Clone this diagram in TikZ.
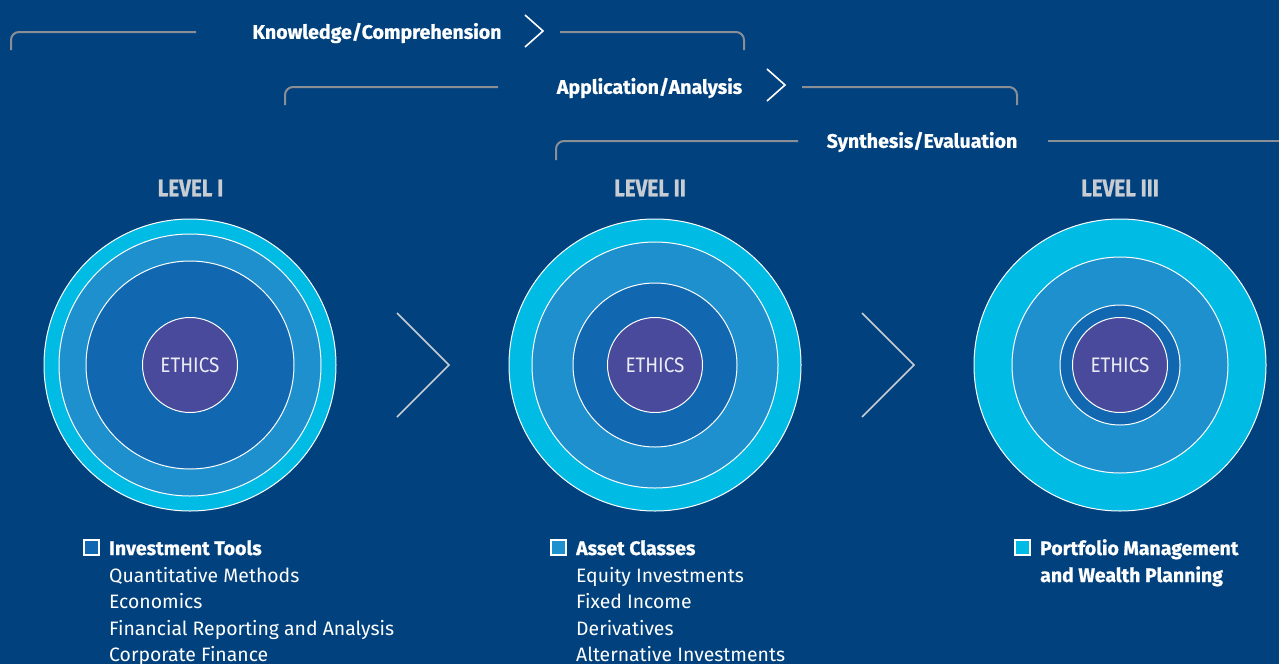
\documentclass[tikz,border=0pt]{standalone}
\usepackage{fontspec}
\setmainfont{Fira Sans}
\newfontfamily\condbold[FakeStretch=0.86,FakeBold=0.8]{Fira Sans Bold}
\newfontfamily\heavyfont[FakeBold=0.7]{Fira Sans Bold}
\newfontfamily\condreg[FakeStretch=0.9]{Fira Sans}
\definecolor{bgc}{RGB}{1,66,126}
\definecolor{ringcyan}{RGB}{0,187,228}
\definecolor{ringmid}{RGB}{30,144,206}
\definecolor{ringin}{RGB}{17,104,176}
\definecolor{ethicsc}{RGB}{74,74,156}
\definecolor{brackc}{RGB}{138,143,150}
\definecolor{levelc}{RGB}{200,205,212}
\definecolor{chevc}{RGB}{200,205,210}
\definecolor{ethtext}{RGB}{236,236,246}
\tikzset{
  ring/.style={circle, draw=white, line width=1pt, inner sep=0pt, outer sep=0pt},
  bracketline/.style={draw=brackc, line width=2pt, rounded corners=8pt},
  smallchev/.style={draw=white, line width=1.6pt},
  bigchev/.style={draw=chevc, line width=1.6pt},
  toplabel/.style={text=white, font=\fontsize{19.6}{22}\heavyfont, inner sep=0pt},
  levellabel/.style={text=levelc, font=\fontsize{24}{26}\condbold, inner sep=0pt},
  ethicslabel/.style={text=ethtext, font=\fontsize{21}{24}\condreg},
  headtext/.style={text=white, font=\fontsize{19.5}{22}\heavyfont, inner sep=0pt, anchor=base west},
  itemtext/.style={text=white, font=\fontsize{19.4}{22}\selectfont, inner sep=0pt, anchor=base west},
  keybox/.style={draw=white, line width=1.2pt, minimum size=15pt, inner sep=0pt},
}
\begin{document}
\begin{tikzpicture}[x=1pt,y=-1pt]
\fill[bgc] (0,0) rectangle (1279,664);
\useasboundingbox (0,0) rectangle (1279,664);

% top brackets
\coordinate (k1a) at (11,50);
\coordinate (k1b) at (11,32);
\coordinate (k1c) at (196,32);
\coordinate (k2a) at (560,32);
\coordinate (k2b) at (744,32);
\coordinate (k2c) at (744,50);
\draw[bracketline] (k1a) -- (k1b) -- (k1c);
\draw[bracketline] (k2a) -- (k2b) -- (k2c);
\node[toplabel] (kc) at (377,33) {Knowledge/Comprehension};
\draw[smallchev] (525,15) -- (543,31) -- (525,47);

\coordinate (a1a) at (285,105);
\coordinate (a1b) at (285,87);
\coordinate (a1c) at (498,87);
\coordinate (a2a) at (802,87);
\coordinate (a2b) at (1017,87);
\coordinate (a2c) at (1017,105);
\draw[bracketline] (a1a) -- (a1b) -- (a1c);
\draw[bracketline] (a2a) -- (a2b) -- (a2c);
\node[toplabel] (aa) at (649.5,88) {Application/Analysis};
\draw[smallchev] (767,69) -- (785,85) -- (767,101);

\coordinate (s1a) at (556,160);
\coordinate (s1b) at (556,141);
\coordinate (s1c) at (798,141);
\coordinate (s2a) at (1048,141);
\coordinate (s2b) at (1279,141);
\draw[bracketline] (s1a) -- (s1b) -- (s1c);
\draw[bracketline] (s2a) -- (s2b);
\node[toplabel] (se) at (922,142) {Synthesis/Evaluation};

% level labels
\node[levellabel] (lv1) at (190.5,188) {LEVEL I};
\node[levellabel] (lv2) at (650,188) {LEVEL II};
\node[levellabel] (lv3) at (1120,188) {LEVEL III};

% Level I circles
\node[ring, fill=ringcyan, minimum size=292pt] (c1o) at (190,365) {};
\node[ring, fill=ringmid, minimum size=262pt] (c1m) at (190,365) {};
\node[ring, fill=ringin, minimum size=208pt] (c1i) at (190,365) {};
\node[ring, fill=ethicsc, minimum size=95pt, ethicslabel] (c1e) at (190,365) {ETHICS};

% Level II circles
\node[ring, fill=ringcyan, minimum size=292pt] (c2o) at (655,365) {};
\node[ring, fill=ringmid, minimum size=246pt] (c2m) at (655,365) {};
\node[ring, fill=ringin, minimum size=164pt] (c2i) at (655,365) {};
\node[ring, fill=ethicsc, minimum size=95pt, ethicslabel] (c2e) at (655,365) {ETHICS};

% Level III circles
\node[ring, fill=ringcyan, minimum size=292pt] (c3o) at (1120,365) {};
\node[ring, fill=ringmid, minimum size=216pt] (c3m) at (1120,365) {};
\node[ring, fill=ringin, minimum size=120pt] (c3i) at (1120,365) {};
\node[ring, fill=ethicsc, minimum size=95pt, ethicslabel] (c3e) at (1120,365) {ETHICS};

% big chevrons
\draw[bigchev] (397,313) -- (449,365) -- (397,417);
\draw[bigchev] (862,313) -- (914,365) -- (862,417);

% legends
\node[keybox, fill=ringin] (b1) at (91.5,547.5) {};
\node[headtext] (h1) at (109,555) {Investment Tools};
\node[itemtext] (i11) at (109,582) {Quantitative Methods};
\node[itemtext] (i12) at (109,608.5) {Economics};
\node[itemtext] (i13) at (109,635) {Financial Reporting and Analysis};
\node[itemtext] (i14) at (109,661.5) {Corporate Finance};

\node[keybox, fill=ringmid] (b2) at (558.5,547.5) {};
\node[headtext] (h2) at (576,555) {Asset Classes};
\node[itemtext] (i21) at (576,582) {Equity Investments};
\node[itemtext] (i22) at (576,608.5) {Fixed Income};
\node[itemtext] (i23) at (576,635) {Derivatives};
\node[itemtext] (i24) at (576,661.5) {Alternative Investments};

\node[keybox, fill=ringcyan] (b3) at (1022.5,547.5) {};
\node[headtext] (h3) at (1040,555) {Portfolio Management};
\node[headtext] (h3b) at (1040,582) {and Wealth Planning};
\end{tikzpicture}
\end{document}
